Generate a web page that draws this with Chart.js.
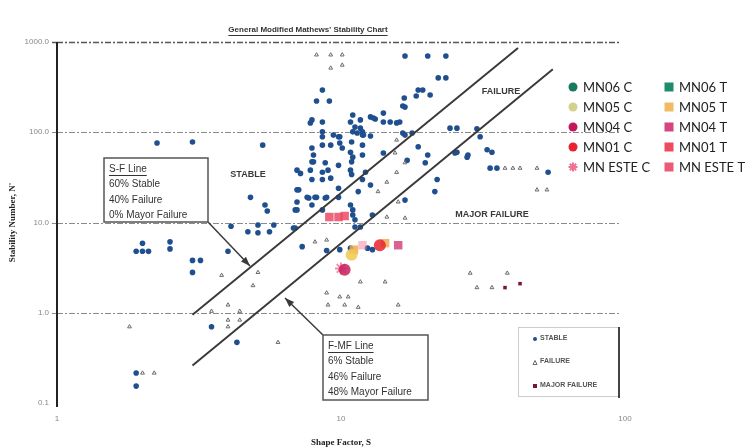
<!DOCTYPE html>
<html>
<head>
<meta charset="utf-8">
<script src="https://cdn.jsdelivr.net/npm/chart.js@4.4.0/dist/chart.umd.min.js"></script>
<style>
  html, body { margin: 0; padding: 0; background: #fff; }
  #wrap { width: 749px; height: 448px; }
</style>
</head>
<body>
<div id="wrap"><canvas id="chart" width="749" height="448"></canvas></div>
<script>
// values: [shape factor S, stability number N']
const stable = [
  [16.8, 700], [20.2, 700], [23.4, 700], [22.0, 400], [23.4, 400], [18.7, 294], [19.4, 294],
  [18.4, 252], [20.6, 259], [16.7, 240], [16.5, 195], [16.8, 190], [8.6, 294], [8.2, 222],
  [9.1, 222], [7.9, 137], [7.8, 127], [8.6, 130], [11.0, 155], [10.8, 130], [11.7, 137],
  [12.7, 148], [13.2, 140], [14.1, 163], [14.1, 130], [14.9, 130], [16.1, 130], [11.2, 114],
  [11.7, 111], [11.4, 98], [11.9, 101], [8.6, 101], [9.8, 89], [8.6, 89], [16.5, 98],
  [12.7, 91], [24.2, 111], [25.6, 111], [30.1, 109], [13.0, 144], [15.7, 127], [12.0, 93],
  [9.4, 93], [9.9, 89], [11.0, 101], [11.9, 93], [16.8, 93], [17.8, 98], [8.6, 72], [9.2, 72],
  [9.9, 76], [10.1, 67], [10.9, 78], [11.9, 72], [7.9, 67], [8.0, 56], [10.8, 60], [11.0, 53],
  [11.9, 56], [10.9, 47], [10.8, 38], [10.9, 34], [8.0, 47], [8.8, 46], [9.8, 43], [7.2, 35],
  [7.8, 38], [8.6, 36], [9.0, 38], [8.6, 30], [9.2, 31], [12.2, 36], [11.9, 30], [12.7, 26],
  [11.5, 22], [7.0, 23], [7.7, 18.7], [8.1, 19], [8.9, 19], [9.8, 24], [9.8, 19], [10.8, 15.6],
  [11.0, 13.8], [11.0, 12.1], [11.2, 10.7], [6.9, 13.8], [7.0, 16.9], [7.9, 15.6], [8.6, 13.8],
  [12.9, 12.1], [11.2, 8.9], [11.7, 8.9], [6.8, 8.7], [18.7, 69], [19.8, 46], [21.8, 30],
  [21.4, 22], [16.8, 17.7], [25.2, 59], [27.8, 53], [32.7, 64], [34.0, 60], [28.0, 56],
  [20.2, 56], [14.1, 59], [17.1, 49], [33.5, 40], [35.4, 40], [53.6, 36], [30.9, 89],
  [25.6, 60], [2.25, 76], [3.0, 78], [5.3, 72], [4.8, 19], [5.4, 15.6], [5.5, 13.4], [7.0, 13.8],
  [4.1, 9.1], [4.7, 7.9], [5.1, 9.4], [5.6, 7.9], [5.8, 9.4], [6.9, 8.7], [5.1, 7.7], [1.9, 4.8],
  [2.0, 4.8], [2.1, 4.8], [2.0, 5.9], [2.5, 6.1], [2.5, 5.1], [3.0, 3.8], [3.2, 3.8], [3.0, 2.8],
  [4.0, 4.8], [7.3, 5.4], [3.5, 0.70], [4.3, 0.47], [1.9, 0.215], [1.9, 0.154], [7.9, 30],
  [7.1, 23], [7.0, 38], [7.9, 47], [7.6, 19], [8.2, 19], [8.8, 18.7], [8.9, 4.9], [12.4, 5.2],
  [12.9, 5.0], [10.8, 5.2], [9.9, 5.0]
];
const failure = [
  [15.7, 82], [15.5, 59], [16.8, 46], [15.7, 36], [14.5, 28], [13.5, 22], [15.9, 16.9],
  [14.5, 11.5], [16.8, 11.2], [4.0, 1.22], [3.5, 1.04], [4.0, 0.83], [4.0, 0.70], [4.4, 1.04],
  [4.4, 0.83], [4.9, 2.0], [5.1, 2.8], [6.0, 0.47], [2.0, 0.215], [2.2, 0.215], [3.8, 2.6],
  [1.8, 0.70], [37.8, 40], [40.3, 40], [42.7, 40], [49, 40], [49, 23], [53.1, 23],
  [8.2, 720], [9.2, 720], [10.1, 720], [10.1, 555], [9.2, 515], [8.9, 1.66], [9.9, 1.5],
  [10.6, 1.5], [9.0, 1.22], [10.3, 1.22], [11.5, 1.15], [15.9, 1.22], [11.7, 2.2], [14.3, 2.2],
  [8.1, 6.1], [8.9, 6.4], [28.5, 2.75], [38.5, 2.75], [30.1, 1.9], [34.0, 1.9]
];
const majorFailure = [[37.8, 1.9], [42.7, 2.1]];

const mn06C = [];
const mn06T = [];
const mn05C = [[10.9, 4.4]];
const mn05T = [[11.1, 5.0], [14.3, 5.9]];
const mn04C = [[10.3, 3.0]];
const mn04T = [[15.9, 5.6]];
const mn01C = [[13.7, 5.6]];
const mn01T = [[9.1, 11.5], [9.8, 11.5], [10.3, 11.8]];
const mnEsteC = [[10.0, 3.1]];
const mnEsteT = [[11.9, 5.6]];

// boundary lines
const sfLine = [[3.0, 0.95], [42, 860]];
const fmfLine = [[3.0, 0.26], [55.7, 500]];

const xTicks = [1, 10, 100];
const xTickLabels = ['1', '10', '100'];
const yTicks = [0.1, 1, 10, 100, 1000];
const yTickLabels = ['0.1', '1.0', '10.0', '100.0', '1000.0'];

const toXY = arr => arr.map(p => ({ x: p[0], y: p[1] }));

function sample(label, data, color, style, group) {
  return {
    label, data: toXY(data), group,
    pointStyle: style,
    pointRadius: 6,
    backgroundColor: color, borderColor: color, borderWidth: style === 'star' ? 2 : 0
  };
}

const sampleSets = [
  sample('MN06 C', mn06C, '#177a5e', 'circle', 'main'),
  sample('MN05 C', mn05C, 'rgba(240,200,80,0.85)', 'circle', 'main'),
  sample('MN04 C', mn04C, 'rgba(200,30,95,0.85)', 'circle', 'main'),
  sample('MN01 C', mn01C, 'rgba(232,35,46,0.85)', 'circle', 'main'),
  sample('MN ESTE C', mnEsteC, 'rgba(240,114,143,0.8)', 'star', 'main'),
  sample('MN06 T', mn06T, '#1e8c6c', 'rect', 'main'),
  sample('MN05 T', mn05T, 'rgba(242,170,80,0.85)', 'rect', 'main'),
  sample('MN04 T', mn04T, 'rgba(214,69,127,0.85)', 'rect', 'main'),
  sample('MN01 T', mn01T, 'rgba(236,74,100,0.85)', 'rect', 'main'),
  sample('MN ESTE T', mnEsteT, 'rgba(240,140,160,0.55)', 'rect', 'main')
];
const legendColors = {
  'MN06 C': '#177a5e', 'MN05 C': '#d3d28c', 'MN04 C': '#c2185b', 'MN01 C': '#e8232e',
  'MN ESTE C': '#f0728f', 'MN06 T': '#1e8c6c', 'MN05 T': '#f2bb62', 'MN04 T': '#d6457f',
  'MN01 T': '#ef4a5e', 'MN ESTE T': '#ec5a78'
};

const datasets = sampleSets.concat([
  { label: 'S-F', data: toXY(sfLine), showLine: true, pointRadius: 0, borderColor: '#3a3a3a', borderWidth: 2 },
  { label: 'F-MF', data: toXY(fmfLine), showLine: true, pointRadius: 0, borderColor: '#3a3a3a', borderWidth: 2 },
  { label: 'MAJOR FAILURE', group: 'class', data: toXY(majorFailure), pointStyle: 'rect', pointRadius: 2.5,
    backgroundColor: '#7b1535', borderColor: '#7b1535', borderWidth: 0 },
  { label: 'FAILURE', group: 'class', data: toXY(failure), pointStyle: 'triangle', pointRadius: 2.2,
    backgroundColor: 'rgba(0,0,0,0)', borderColor: '#6a6a6a', borderWidth: 1 },
  { label: 'STABLE', group: 'class', data: toXY(stable), pointStyle: 'circle', pointRadius: 2.8,
    backgroundColor: '#1f4f8f', borderColor: '#1f4f8f', borderWidth: 0 }
]);

function marker(ctx, style, x, y, color, r) {
  ctx.save();
  ctx.fillStyle = color;
  ctx.strokeStyle = color;
  if (style === 'circle') {
    ctx.beginPath(); ctx.arc(x, y, r, 0, Math.PI * 2); ctx.fill();
  } else if (style === 'rect') {
    ctx.fillRect(x - r, y - r, r * 2, r * 2);
  } else if (style === 'triangle') {
    ctx.lineWidth = 1;
    ctx.beginPath(); ctx.moveTo(x, y - r); ctx.lineTo(x + r, y + r); ctx.lineTo(x - r, y + r); ctx.closePath(); ctx.stroke();
  } else if (style === 'star') {
    ctx.lineWidth = 2;
    for (let i = 0; i < 4; i++) {
      const a = i * Math.PI / 4;
      ctx.beginPath();
      ctx.moveTo(x - Math.cos(a) * r, y - Math.sin(a) * r);
      ctx.lineTo(x + Math.cos(a) * r, y + Math.sin(a) * r);
      ctx.stroke();
    }
  }
  ctx.restore();
}

function arrow(ctx, x1, y1, x2, y2) {
  const a = Math.atan2(y2 - y1, x2 - x1);
  ctx.beginPath(); ctx.moveTo(x1, y1); ctx.lineTo(x2, y2); ctx.stroke();
  ctx.beginPath();
  ctx.moveTo(x2, y2);
  ctx.lineTo(x2 - 10 * Math.cos(a - 0.35), y2 - 10 * Math.sin(a - 0.35));
  ctx.lineTo(x2 - 10 * Math.cos(a + 0.35), y2 - 10 * Math.sin(a + 0.35));
  ctx.closePath(); ctx.fill();
}

function textBox(ctx, x, y, w, h, lines) {
  ctx.fillStyle = '#fff';
  ctx.fillRect(x, y, w, h);
  ctx.strokeStyle = '#555';
  ctx.lineWidth = 1.5;
  ctx.strokeRect(x, y, w, h);
  ctx.fillStyle = '#333';
  ctx.font = '10px "Liberation Sans"';
  ctx.textAlign = 'left';
  ctx.textBaseline = 'middle';
  lines.forEach((t, i) => {
    const ty = y + 11 + i * 15.5;
    ctx.fillText(t, x + 5, ty);
    if (i === 0) {
      const w0 = ctx.measureText(t).width;
      ctx.fillRect(x + 5, ty + 6, w0, 1);
    }
  });
}

const overlay = {
  id: 'overlay',
  beforeDatasetsDraw(chart) {
    const { ctx, chartArea: a, scales } = chart;
    ctx.save();
    yTicks.forEach(v => {
      if (v === 0.1) return;
      const y = Math.round(scales.y.getPixelForValue(v)) + 0.5;
      ctx.strokeStyle = v === 1000 ? '#555' : '#8a8a8a';
      ctx.lineWidth = v === 1000 ? 1.5 : 1;
      ctx.setLineDash([6, 2, 2, 2]);
      ctx.beginPath(); ctx.moveTo(a.left, y); ctx.lineTo(a.right - 5, y); ctx.stroke();
      ctx.setLineDash([]);
      ctx.beginPath(); ctx.moveTo(a.left - 5, y); ctx.lineTo(a.left, y); ctx.stroke();
    });
    ctx.strokeStyle = '#222';
    ctx.lineWidth = 2;
    ctx.beginPath(); ctx.moveTo(a.left, a.top); ctx.lineTo(a.left, a.bottom + 4); ctx.stroke();
    ctx.restore();
  },
  afterDatasetsDraw(chart) {
    const { ctx } = chart;
    ctx.save();

    // title
    ctx.fillStyle = '#333';
    ctx.font = 'bold 8px "Liberation Sans"';
    ctx.textAlign = 'center';
    ctx.textBaseline = 'middle';
    const title = "General Modified Mathews' Stability Chart";
    ctx.fillText(title, 308, 30);
    const tw = ctx.measureText(title).width;
    ctx.fillRect(308 - tw / 2, 35, tw, 1);

    // zone labels
    ctx.fillStyle = '#3a3a3a';
    ctx.font = 'bold 9px "Liberation Sans"';
    ctx.fillText('STABLE', 248, 175);
    ctx.fillText('FAILURE', 501, 92);
    ctx.fillText('MAJOR FAILURE', 492, 215);

    // boxes and arrows
    ctx.strokeStyle = '#3a3a3a';
    ctx.fillStyle = '#3a3a3a';
    ctx.lineWidth = 1.5;
    arrow(ctx, 208, 222, 250, 266);
    arrow(ctx, 323, 335, 285, 298);
    textBox(ctx, 104, 158, 104, 64, ['S-F Line', '60% Stable', '40% Failure', '0% Mayor Failure']);
    textBox(ctx, 323, 335, 105, 65, ['F-MF Line', '6% Stable', '46% Failure', '48% Mayor Failure']);

    // sample legend (two columns)
    const mains = chart.data.datasets.filter(d => d.group === 'main');
    ctx.font = '13px Lato';
    ctx.textAlign = 'left';
    mains.forEach((d, i) => {
      const col = Math.floor(i / 5), row = i % 5;
      const mx = col === 0 ? 573 : 669;
      const my = 87 + row * 20;
      marker(ctx, d.pointStyle, mx, my, legendColors[d.label], 4.5);
      ctx.fillStyle = '#222';
      ctx.fillText(d.label, mx + 10, my + 1);
    });

    // classification legend box
    ctx.fillStyle = '#fff';
    ctx.fillRect(518, 327, 101, 70);
    ctx.strokeStyle = '#ccc';
    ctx.lineWidth = 1;
    ctx.strokeRect(518.5, 327.5, 100, 69);
    ctx.strokeStyle = '#444';
    ctx.lineWidth = 2;
    ctx.beginPath(); ctx.moveTo(619, 327); ctx.lineTo(619, 398); ctx.stroke();
    const classes = ['STABLE', 'FAILURE', 'MAJOR FAILURE'];
    ctx.font = 'bold 7px "Liberation Sans"';
    classes.forEach((name, i) => {
      const d = chart.data.datasets.find(s => s.label === name);
      const y = 338 + i * 23.5;
      marker(ctx, d.pointStyle, 535, y + 1, d.borderColor, 2);
      ctx.fillStyle = '#555';
      ctx.fillText(name, 540, y);
    });
    ctx.restore();
  }
};

new Chart(document.getElementById('chart'), {
  type: 'scatter',
  data: { datasets },
  options: {
    responsive: false,
    animation: false,
    layout: { padding: { left: 0, top: 42, right: 124, bottom: 0 } },
    plugins: { legend: { display: false }, tooltip: { enabled: false } },
    scales: {
      x: {
        type: 'logarithmic', min: 1, max: 100,
        afterBuildTicks: s => { s.ticks = xTicks.map(v => ({ value: v })); },
        afterFit: s => { s.height = 45; },
        grid: { display: false },
        border: { display: false },
        ticks: {
          autoSkip: false, maxRotation: 0, padding: 3, color: '#888',
          font: { size: 8, family: 'Liberation Sans' },
          callback: v => xTickLabels[xTicks.indexOf(v)] ?? ''
        },
        title: {
          display: true, text: 'Shape Factor, S', color: '#222',
          font: { size: 9, weight: 'bold', family: 'Liberation Serif' },
          padding: { top: 11, bottom: 0 }
        }
      },
      y: {
        type: 'logarithmic', min: 0.1, max: 1000,
        afterBuildTicks: s => { s.ticks = yTicks.map(v => ({ value: v })); },
        afterFit: s => { s.width = 57; },
        grid: { display: false },
        border: { display: false },
        ticks: {
          autoSkip: false, padding: 0, color: '#888',
          font: { size: 8, family: 'Liberation Sans' },
          callback: v => yTickLabels[yTicks.indexOf(v)] ?? ''
        },
        title: {
          display: true, text: "Stability Number, N'", color: '#222',
          font: { size: 9, weight: 'bold', family: 'Liberation Serif' },
          padding: { top: 7, bottom: 0 }
        }
      }
    }
  },
  plugins: [overlay]
});
</script>
</body>
</html>
